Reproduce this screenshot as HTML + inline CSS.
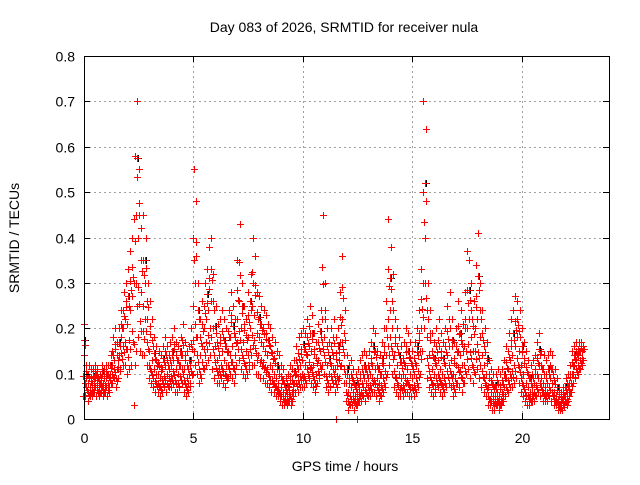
<!DOCTYPE html>
<html><head><meta charset="utf-8"><style>
body{margin:0;background:#fff;font-family:"Liberation Sans",sans-serif}
svg text{font-family:"Liberation Sans",sans-serif;font-size:14px;fill:#000}
</style></head><body>
<svg id="c" width="640" height="480">
<rect width="640" height="480" fill="#fff"/>
<text x="344" y="32" text-anchor="middle">Day 083 of 2026, SRMTID for receiver nula</text>
<text x="345" y="471" text-anchor="middle">GPS time / hours</text>
<text transform="translate(19,238) rotate(-90)" text-anchor="middle">SRMTID / TECUs</text>
<g id="grid"></g><g id="marks"></g><g id="axes"></g>
</svg>
<script>
const xTicks=[0,5,10,15,20];
const yTicks=[0,0.1,0.2,0.3,0.4,0.5,0.6,0.7,0.8];
const yTickLabels=["0","0.1","0.2","0.3","0.4","0.5","0.6","0.7","0.8"];
const tStart=0, tStep=0.1;
const midVals=[0.14,0.09,0.08,0.07,0.08,0.09,0.08,0.07,0.09,0.08,
0.09,0.08,0.10,0.12,0.13,0.11,0.14,0.18,0.20,0.22,
0.21,0.24,0.27,0.30,0.45,0.40,0.28,0.25,0.30,0.22,
0.15,0.13,0.11,0.10,0.10,0.09,0.11,0.12,0.10,0.11,
0.12,0.13,0.11,0.10,0.12,0.14,0.11,0.09,0.10,0.13,
0.25,0.30,0.18,0.14,0.16,0.20,0.22,0.24,0.26,0.20,
0.16,0.13,0.14,0.15,0.13,0.12,0.15,0.18,0.16,0.14,
0.22,0.26,0.20,0.17,0.15,0.18,0.20,0.25,0.23,0.19,
0.18,0.17,0.16,0.15,0.14,0.12,0.11,0.10,0.09,0.08,
0.07,0.06,0.05,0.06,0.07,0.06,0.08,0.10,0.11,0.12,
0.13,0.12,0.14,0.16,0.15,0.12,0.10,0.13,0.15,0.22,
0.18,0.12,0.10,0.12,0.14,0.11,0.12,0.17,0.22,0.14,
0.08,0.06,0.07,0.06,0.05,0.06,0.07,0.08,0.09,0.08,
0.09,0.10,0.12,0.11,0.09,0.08,0.10,0.12,0.14,0.22,
0.24,0.20,0.14,0.12,0.10,0.09,0.10,0.12,0.11,0.10,
0.09,0.10,0.12,0.14,0.20,0.30,0.40,0.18,0.14,0.11,
0.10,0.12,0.13,0.11,0.10,0.12,0.14,0.16,0.13,0.10,
0.12,0.15,0.14,0.12,0.16,0.20,0.22,0.18,0.15,0.20,
0.22,0.18,0.14,0.12,0.10,0.07,0.06,0.05,0.05,0.06,
0.05,0.06,0.07,0.09,0.11,0.13,0.14,0.16,0.18,0.15,
0.12,0.10,0.08,0.07,0.06,0.07,0.08,0.10,0.12,0.09,
0.08,0.07,0.08,0.09,0.08,0.06,0.05,0.04,0.035,0.04,
0.05,0.06,0.08,0.10,0.12,0.13,0.14,0.15,0.15];
const hiVals=[0.21,0.12,0.12,0.11,0.11,0.12,0.11,0.10,0.12,0.11,
0.12,0.12,0.14,0.18,0.20,0.17,0.20,0.24,0.28,0.30,
0.33,0.37,0.40,0.58,0.70,0.55,0.42,0.45,0.40,0.30,
0.26,0.22,0.18,0.16,0.15,0.14,0.16,0.18,0.16,0.17,
0.18,0.20,0.17,0.16,0.18,0.21,0.17,0.15,0.16,0.20,
0.55,0.48,0.30,0.22,0.26,0.30,0.33,0.38,0.40,0.32,
0.25,0.21,0.22,0.24,0.22,0.20,0.24,0.28,0.25,0.22,
0.35,0.43,0.30,0.25,0.22,0.28,0.32,0.40,0.36,0.28,
0.27,0.25,0.24,0.23,0.21,0.20,0.18,0.17,0.15,0.14,
0.12,0.11,0.09,0.10,0.12,0.11,0.13,0.16,0.18,0.19,
0.20,0.19,0.22,0.25,0.23,0.19,0.17,0.21,0.24,0.45,
0.30,0.20,0.17,0.20,0.22,0.18,0.20,0.28,0.36,0.24,
0.14,0.12,0.13,0.11,0.10,0.11,0.13,0.14,0.15,0.14,
0.15,0.17,0.20,0.19,0.15,0.14,0.17,0.20,0.26,0.44,
0.38,0.32,0.22,0.20,0.18,0.16,0.17,0.20,0.19,0.17,
0.15,0.17,0.20,0.24,0.33,0.70,0.64,0.30,0.24,0.19,
0.17,0.20,0.22,0.19,0.17,0.20,0.25,0.28,0.22,0.17,
0.20,0.26,0.24,0.21,0.28,0.37,0.35,0.30,0.26,0.34,
0.41,0.30,0.24,0.20,0.17,0.13,0.11,0.10,0.10,0.11,
0.10,0.11,0.13,0.16,0.19,0.22,0.24,0.27,0.26,0.24,
0.20,0.17,0.15,0.13,0.12,0.13,0.14,0.17,0.19,0.15,
0.14,0.13,0.14,0.15,0.14,0.11,0.09,0.07,0.06,0.07,
0.09,0.10,0.12,0.15,0.16,0.17,0.17,0.17,0.16];
const loVals=[0.05,0.05,0.04,0.05,0.05,0.06,0.05,0.05,0.06,0.05,
0.06,0.05,0.07,0.08,0.09,0.07,0.09,0.11,0.12,0.12,
0.10,0.11,0.12,0.03,0.15,0.18,0.15,0.14,0.14,0.12,
0.09,0.08,0.07,0.06,0.06,0.05,0.06,0.07,0.06,0.07,
0.07,0.08,0.06,0.06,0.07,0.08,0.06,0.05,0.06,0.08,
0.10,0.12,0.10,0.08,0.09,0.11,0.12,0.13,0.14,0.11,
0.09,0.08,0.08,0.09,0.08,0.07,0.09,0.10,0.09,0.08,
0.12,0.13,0.11,0.10,0.09,0.10,0.11,0.12,0.12,0.10,
0.10,0.09,0.09,0.08,0.08,0.07,0.06,0.06,0.05,0.05,
0.04,0.03,0.03,0.03,0.04,0.03,0.05,0.06,0.06,0.07,
0.07,0.07,0.08,0.09,0.08,0.07,0.06,0.08,0.09,0.12,
0.10,0.07,0.06,0.07,0.08,0.06,0.07,0.09,0.12,0.08,
0.04,0.02,0.03,0.03,0.02,0.03,0.04,0.04,0.05,0.04,
0.05,0.05,0.06,0.06,0.05,0.04,0.05,0.06,0.07,0.10,
0.12,0.10,0.07,0.06,0.05,0.05,0.05,0.06,0.06,0.05,
0.05,0.05,0.06,0.07,0.10,0.15,0.20,0.09,0.07,0.06,
0.05,0.06,0.07,0.06,0.05,0.06,0.07,0.08,0.07,0.05,
0.06,0.08,0.07,0.06,0.08,0.10,0.11,0.09,0.08,0.10,
0.11,0.09,0.07,0.06,0.05,0.03,0.03,0.02,0.02,0.03,
0.02,0.03,0.04,0.05,0.06,0.07,0.07,0.08,0.09,0.08,
0.06,0.05,0.04,0.03,0.03,0.04,0.04,0.05,0.06,0.05,
0.04,0.04,0.04,0.05,0.04,0.03,0.03,0.02,0.02,0.02,
0.03,0.03,0.05,0.06,0.08,0.09,0.10,0.11,0.12];
const zeroTimes=[11.5,12.5];
const L=84,R=609,T=56,B=419,XMAX=24,YMAX=0.8;
const xs=t=>L+(R-L)*t/XMAX, ys=v=>B-(B-T)*v/YMAX;
const NS="http://www.w3.org/2000/svg";
const grid=document.getElementById('grid'),marks=document.getElementById('marks'),axes=document.getElementById('axes');
function ln(g,x1,y1,x2,y2,st,dash){const l=document.createElementNS(NS,'line');l.setAttribute('x1',x1);l.setAttribute('y1',y1);l.setAttribute('x2',x2);l.setAttribute('y2',y2);l.setAttribute('stroke',st);if(dash)l.setAttribute('stroke-dasharray',dash);g.appendChild(l);return l;}
function tx(g,x,y,s,a){const t=document.createElementNS(NS,'text');t.setAttribute('x',x);t.setAttribute('y',y);t.setAttribute('text-anchor',a);t.textContent=s;g.appendChild(t);return t;}
yTicks.forEach((v,i)=>{const y=Math.round(ys(v))+0.5;
 if(v>0&&v<YMAX){const g=ln(grid,L,y,R,y,'#a0a0a0','2,3');}
 ln(axes,L,y,L+6,y,'#000');ln(axes,R,y,R-6,y,'#000');
 const t=tx(axes,L-9,y+5,yTickLabels[i],'end');
 
 });
xTicks.forEach(v=>{const x=Math.round(xs(v))+0.5;
 if(v>0){const g=ln(grid,x,T,x,B,'#a0a0a0','2,3');}
 ln(axes,x,B,x,B-6,'#000');ln(axes,x,T,x,T+6,'#000');
 const t=tx(axes,x,B+24,String(v),'middle');
 
 });
const fr=document.createElementNS(NS,'rect');fr.setAttribute('x',L+0.5);fr.setAttribute('y',T+0.5);fr.setAttribute('width',R-L);fr.setAttribute('height',B-T);fr.setAttribute('fill','none');fr.setAttribute('stroke','#000');


axes.appendChild(fr);
let d='',dk='';
function cross(t,v){const x=Math.round(xs(t))+0.5,y=Math.round(ys(v))+0.5;return `M${x-3.5},${y}h7M${x},${y-3.5}v7`;}
midVals.forEach((m,i)=>{const t=tStart+i*tStep,h=hiVals[i],lo=loVals[i];
 const vals=[lo,(lo+m)/2,m,(m+h)/2,h,(lo*2+m)/3,(m*2+h)/3];
 vals.forEach((v,k)=>{d+=cross(t+(k-3)*0.012,v);});
 if(i%4===0)dk+=cross(t+0.05,(m+h)/2);});
zeroTimes.forEach(t=>{d+=cross(t,0);});
const pk=document.createElementNS(NS,'path');pk.setAttribute('d',dk);pk.setAttribute('stroke','#000');pk.setAttribute('fill','none');


marks.appendChild(pk);
const p=document.createElementNS(NS,'path');p.setAttribute('d',d);p.setAttribute('stroke','#ff0000');p.setAttribute('fill','none');


marks.appendChild(p);
</script>
</body></html>
